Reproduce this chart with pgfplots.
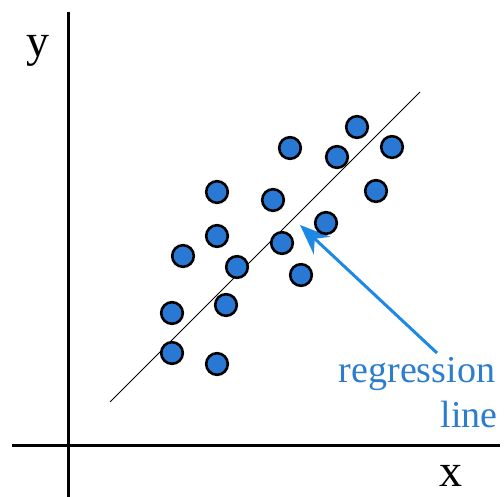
\documentclass[border=0pt]{standalone}
\usepackage{pgfplots}
\pgfplotsset{compat=1.18}
\usepackage{fontspec}
\setmainfont{Liberation Serif}
\usetikzlibrary{arrows.meta}
\definecolor{dotblue}{RGB}{40,120,212}
\definecolor{arrowblue}{RGB}{30,136,229}
\definecolor{textblue}{RGB}{45,125,205}
\begin{document}
\begin{tikzpicture}
\begin{axis}[name=ax,
  scale only axis, width=504pt, height=497pt,
  xmin=0, xmax=504, ymin=0, ymax=497,
  axis lines=none, ticks=none, clip=false,
]
% axes (pixel coords, y flipped: 497 - py)
\addplot[black, line width=3pt] coordinates {(68,485) (68,0)};
\addplot[black, line width=3pt] coordinates {(12,51) (500,51)};
% regression line
\addplot[black, line width=0.8pt] coordinates {(110,95) (420,405)};
% arrow
\draw[arrowblue, line width=3pt, -{Stealth[length=30pt,width=24pt]}] (axis cs:437,144) -- (axis cs:300,272);
% points
\addplot[only marks, mark=*, mark size=10.8pt, mark options={fill=dotblue, draw=black, line width=2.6pt}] coordinates {
(357,370) (290,349) (337,340) (392,350) (217,305) (273,297) (376,306)
(326,274) (217,261) (282,254) (183,241) (237,230) (301,222) (226,192)
(172,184) (172,144) (217,133)
};
\node[font=\fontsize{46}{46}\selectfont, anchor=base] at (axis cs:38,440) {y};
\node[font=\fontsize{46}{46}\selectfont, anchor=base] at (axis cs:451,10) {x};
\node[font=\fontsize{38}{38}\selectfont, text=textblue, anchor=base] at (axis cs:417,114) {regression};
\node[font=\fontsize{38}{38}\selectfont, text=textblue, anchor=base] at (axis cs:469,69) {line};
\end{axis}
\pgfresetboundingbox
\path (ax.south west) rectangle (ax.north east);
\end{tikzpicture}
\end{document}
